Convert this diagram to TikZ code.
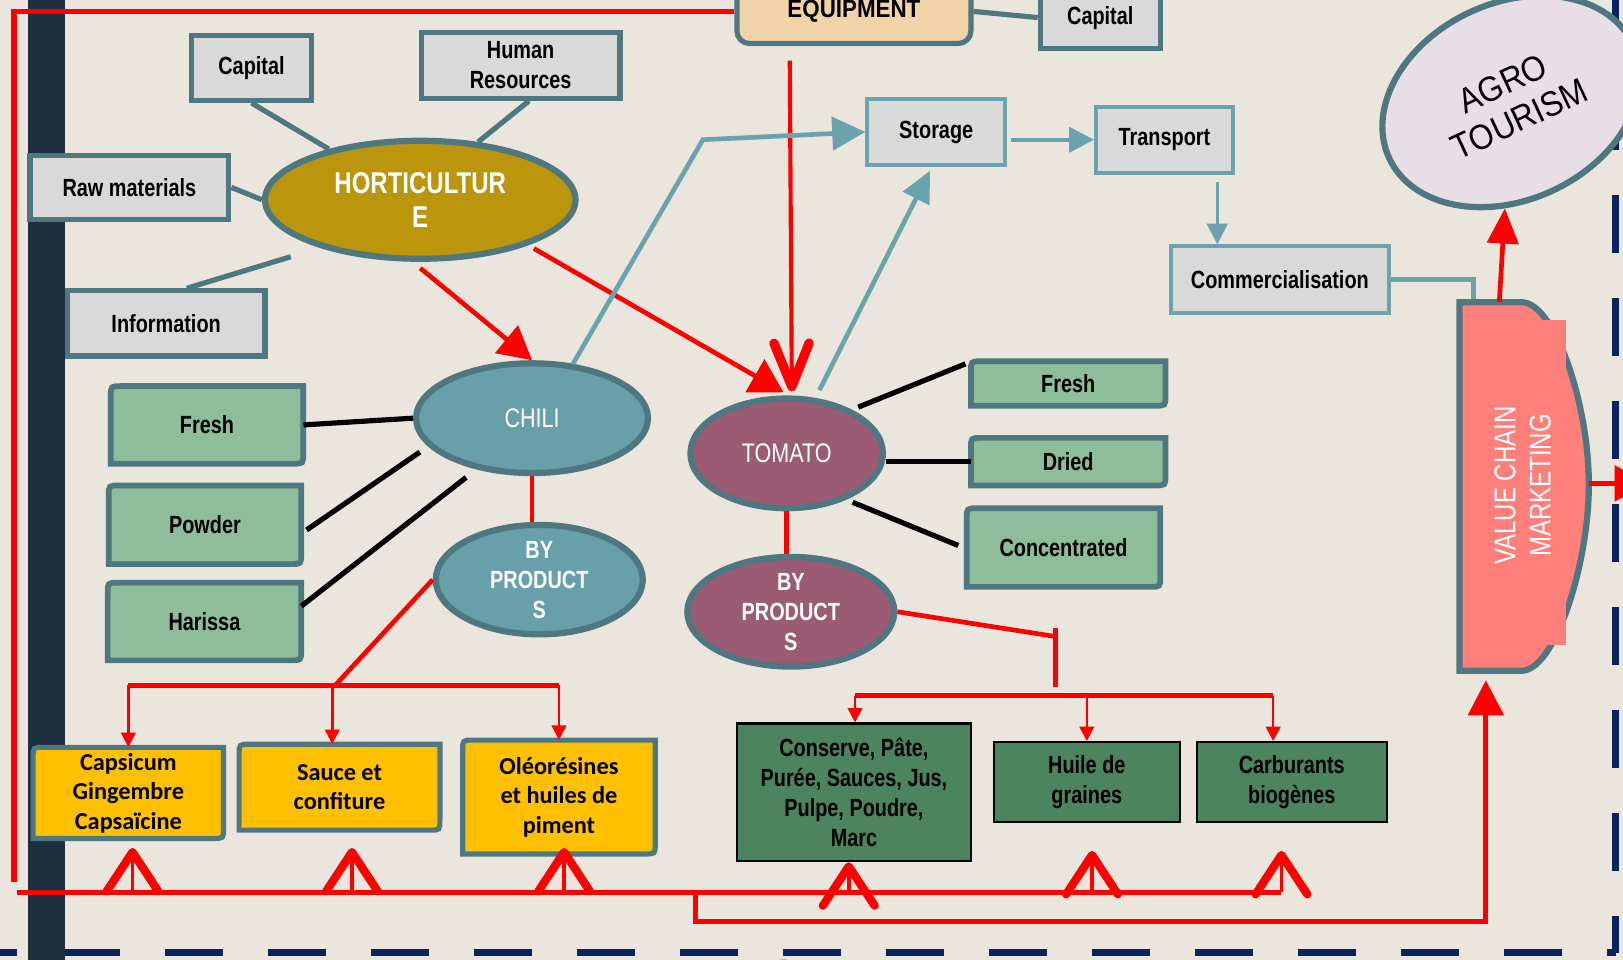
\documentclass[tikz,border=0pt]{standalone}
\usepackage{fontspec}
\setmainfont{Liberation Sans}
\newfontfamily\narrowfont[FakeStretch=0.8]{Liberation Sans}
\newfontfamily\equipfont[FakeStretch=0.9]{Liberation Sans}
\newfontfamily\agrofont[FakeStretch=0.9]{Liberation Sans}
\newfontfamily\calfont{Carlito}
\usetikzlibrary{arrows.meta,shapes.geometric,calc}

\definecolor{paper}{RGB}{234,230,221}
\definecolor{barnavy}{RGB}{29,46,63}
\definecolor{dashnavy}{RGB}{10,34,96}
\definecolor{slate}{RGB}{78,119,128}
\definecolor{aqua}{RGB}{106,163,172}
\definecolor{boxgrey}{RGB}{217,217,217}
\definecolor{gold}{RGB}{187,149,12}
\definecolor{chiliblue}{RGB}{103,160,170}
\definecolor{tomatomauve}{RGB}{154,91,115}
\definecolor{leaf}{RGB}{141,189,154}
\definecolor{amber}{RGB}{255,192,0}
\definecolor{forest}{RGB}{75,132,94}
\definecolor{salmon}{RGB}{255,127,122}
\definecolor{lilac}{RGB}{232,222,230}
\definecolor{wheat}{RGB}{240,212,168}
\definecolor{vred}{RGB}{255,0,0}
\definecolor{sliver}{RGB}{110,90,107}

\newcommand\lblfont{\narrowfont\bfseries\fontsize{24}{29}\selectfont}

% box whose top-left and bottom-right corners are rounded
% #1 outline options, #2 node options, #3 name, #4/#5 top-left, #6/#7 bottom-right, #8 text
\newcommand\roundbox[8]{%
  \path[#1] ({#4+10},#5) -- (#6,#5) -- (#6,{#7-10}) .. controls (#6,#7) .. ({#6-10},#7)
     -- (#4,#7) -- (#4,{#5+10}) .. controls (#4,#5) .. cycle;
  \node[#2, minimum width={#6-#4}, minimum height={#7-#5}] (#3) at ({(#4+#6)/2},{(#5+#7)/2}) {#8};}

\tikzset{
  lbl/.style={font=\lblfont, text=black, align=center, inner sep=0pt},
  ytext/.style={font=\calfont\bfseries\fontsize{23.5}{28.5}\selectfont, text=black, align=center, inner sep=0pt},
  greybox/.style={lbl, draw=slate, line width=5pt, fill=boxgrey},
  aquabox/.style={lbl, draw=aqua, line width=4pt, fill=boxgrey},
  forestbox/.style={lbl, draw=black, line width=2pt, fill=forest},
  leafbox/.style={draw=slate, line width=5.5pt, fill=leaf},
  amberbox/.style={draw=slate, line width=5pt, fill=amber},
  ell/.style={ellipse, draw=slate, line width=6pt, inner sep=0pt, text=white, align=center},
  cropfont/.style={font=\narrowfont\fontsize{26}{30}\selectfont},
  bypfont/.style={font=\narrowfont\bfseries\fontsize{24}{29}\selectfont},
  slateline/.style={draw=slate, line width=5pt},
  blackline/.style={draw=black, line width=5pt},
  redline/.style={draw=vred, line width=4.5pt},
  redthin/.style={draw=vred, line width=2.5pt, -{Triangle[length=14pt,width=14pt]}},
  aqualine/.style={draw=aqua, line width=4.5pt},
  chev/.style={draw=vred, line width=3.5pt, -{Straight Barb[length=38pt,width=50pt,line width=8pt,round]}},
}

\begin{document}
\begin{tikzpicture}[x=1pt,y=-1pt]
\clip (0,0) rectangle (1568,927);
\fill[paper] (0,0) rectangle (1568,927);

% dashed frame on the right and bottom
\draw[dashnavy, line width=6.5pt, dash pattern=on 56pt off 43.5pt] (1561,-10.5) -- (1561,920.5);
\draw[dashnavy, line width=6.5pt, dash pattern=on 56pt off 43.5pt] (-39.5,920.5) -- (1561,920.5);
\fill[sliver] (757,937) ellipse [x radius=13pt, y radius=10pt];

% dark vertical band
\fill[barnavy] (27,0) rectangle (63,927);

% ---------- horticulture and its inputs ----------
\node[greybox, minimum width=116pt, minimum height=63pt] (capL) at (243,65.5) {Capital};
\node[greybox, minimum width=192pt, minimum height=64pt] (hr) at (503,63) {Human\\Resources};
\node[greybox, minimum width=192pt, minimum height=62pt] (raw) at (125,181) {Raw materials};
\node[greybox, minimum width=191pt, minimum height=63pt] (info) at (160.5,312.5) {Information};
\node[ell, fill=gold, minimum width=300pt, minimum height=114pt,
      font=\narrowfont\bfseries\fontsize{29}{33}\selectfont] (hort) at (406,193) {HORTICULTUR\\E};

% ---------- equipment ----------
\node[lbl, draw=slate, line width=5pt, fill=wheat, rounded corners=12pt,
      font=\equipfont\bfseries\fontsize{24}{29}\selectfont,
      minimum width=226pt, minimum height=62pt] (equip) at (825,11) {EQUIPMENT};
\node[greybox, minimum width=116pt, minimum height=60pt] (capR) at (1063,17) {Capital};

% ---------- chili ----------
\node[ell, fill=chiliblue, cropfont, minimum width=224pt, minimum height=106pt] (chili) at (514,404) {CHILI};
\node[ell, fill=chiliblue, bypfont, minimum width=200pt, minimum height=104pt] (bypc) at (521,560) {BY\\PRODUCT\\S};
\roundbox{leafbox}{lbl}{frC}{107}{373}{293}{448}{Fresh}
\roundbox{leafbox}{lbl}{pow}{105}{469}{291}{545}{Powder}
\roundbox{leafbox}{lbl}{har}{104}{563}{291}{638}{Harissa}
\roundbox{amberbox}{ytext}{caps}{32}{722}{216}{810}{Capsicum\\Gingembre\\Capsaïcine}
\roundbox{amberbox}{ytext}{sauce}{231}{719}{425}{802}{Sauce et\\confiture}
\roundbox{amberbox}{ytext}{oleo}{447}{715}{633}{825}{Oléorésines\\et huiles de\\piment}

% ---------- tomato ----------
\node[ell, fill=tomatomauve, cropfont, minimum width=186pt, minimum height=106pt] (tom) at (760,438) {TOMATO};
\node[ell, fill=tomatomauve, bypfont, minimum width=200pt, minimum height=106pt] (bypt) at (764,591) {BY\\PRODUCT\\S};
\roundbox{leafbox}{lbl}{frT}{938}{349}{1126}{392}{Fresh}
\roundbox{leafbox}{lbl}{dri}{938}{423}{1126}{469}{Dried}
\roundbox{leafbox}{lbl}{conc}{934}{491}{1121}{567}{Concentrated}
\node[forestbox, minimum width=226pt, minimum height=133pt] (cons) at (825,765.5) {Conserve, Pâte,\\Purée, Sauces, Jus,\\Pulpe, Poudre,\\Marc};
\node[forestbox, minimum width=180pt, minimum height=77pt] (huile) at (1050,755.5) {Huile de\\graines};
\node[forestbox, minimum width=184pt, minimum height=77pt] (carb) at (1248,755.5) {Carburants\\biogènes};

% ---------- logistics chain ----------
\node[aquabox, minimum width=133pt, minimum height=63pt] (stor) at (904.5,127.5) {Storage};
\node[aquabox, minimum width=132pt, minimum height=64pt] (tran) at (1125,135) {Transport};
\node[aquabox, minimum width=211pt, minimum height=64pt] (comm) at (1236.5,270) {Commercialisation};

% ---------- agro tourism ----------
\node[ell, fill=lilac, rotate=25, minimum width=260pt, minimum height=190pt, text=black,
      font=\agrofont\fontsize{34}{38}\selectfont] (agro) at (1460,98) {AGRO\\TOURISM};

% ---------- value chain marketing ----------
\node[inner sep=0pt, minimum width=125pt, minimum height=356pt] (vcm) at (1472.5,470) {};
\draw[aqualine] (comm.east) -| ($(vcm.north)+(-49,8)$);
\path[fill=salmon, draw=slate, line width=6pt] (1410,292) -- (1470,292)
   .. controls (1502,292) and (1535,390) .. (1535,468)
   .. controls (1535,546) and (1502,648) .. (1470,648) -- (1410,648) -- cycle;
\fill[salmon] (1414,309) rectangle (1513,623);
\node[rotate=90, text=white, align=center, font=\narrowfont\fontsize{29}{34}\selectfont]
   (vcmtext) at (1471,469) {VALUE CHAIN\\MARKETING};

% ---------- connectors ----------
% inputs of horticulture
\draw[slateline] (capL.south) -- (hort.151);
\draw[slateline] ($(hr.south)+(8,0)$) -- (hort.45);
\draw[slateline] (raw.east) -- (hort.west);
\draw[slateline] ($(info.north)+(20,0)$) -- ($(hort.204)+(-24,10)$);
\draw[slateline] (equip.east) -- (capR.west);

% red frame from the equipment box
\coordinate (frameTL) at (13.5,11);
\coordinate (frameBL) at (13.5,852);
\draw[redline, line width=5.5pt] (equip.west) -- (frameTL) -- (frameBL);

% main flows
\draw[redline, -{Triangle[length=32pt,width=34pt]}] ($(hort.south)+(0,6)$) -- (chili.north);
\draw[redline, -{Triangle[length=32pt,width=36pt]}] ($(hort.-23)+(6,3)$) -- ($(tom.north)+(-3,-3)$);
\coordinate (eqdrop) at ($(equip.south)+(-62,14)$);
\draw[redline, line width=4pt, -{Straight Barb[length=42pt,width=34pt,line width=9pt,round]}]
   (eqdrop) -- ($(tom.north)+(5,-4)$);

% chili products
\draw[blackline] (frC.east) -- (chili.west);
\draw[blackline] ($(pow.east)+(5,5)$) -- ($(chili.197)+(-11,3)$);
\draw[blackline] ($(har.east)+(0,-15)$) -- ($(chili.222)+(-9,8)$);
\draw[redline] (chili.south) -- (chili.south |- bypc.north);
\coordinate (cj) at (324,662);
\coordinate (cl) at (caps.north |- cj);
\coordinate (cr) at (oleo.north |- cj);
\coordinate (cm) at ($(sauce.north)+(-7,0)$);
\draw[redline] (bypc.west) -- (cj);
\draw[redline] (cl) -- (cr);
\draw[redthin] (cl) -- (caps.north);
\draw[redthin] (cm |- cj) -- (cm);
\draw[redthin] (cr) -- (oleo.north);

% tomato products
\draw[blackline] ($(tom.33)+(5,-3)$) -- ($(frT.west)+(-5,-19)$);
\draw[blackline] (tom.east |- dri.west) -- (dri.west);
\draw[blackline] ($(tom.-37)+(5,3)$) -- ($(conc.west)+(-8,-2)$);
\draw[redline] (tom.south) -- (tom.south |- bypt.north);
\coordinate (tk) at (1020,615);
\draw[redline] (bypt.east) -- (tk);
\draw[redline] ($(tk)+(0,-8)$) -- ($(tk)+(0,49)$);
\coordinate (tl) at ($(cons.north)+(1,-26)$);
\coordinate (tr) at ($(carb.north)+(-18,-44)$);
\draw[redline] (tl) -- (tr);
\draw[redthin] (tl) -- (tl |- cons.north);
\draw[redthin] (huile.north |- tl) -- (huile.north);
\draw[redthin] (tr) -- (tr |- carb.north);

% logistics
\coordinate (bend) at (679,135);
\draw[aqualine, -{Triangle[length=32pt,width=32pt]}] (chili.53) -- (bend) -- (stor.west);
\draw[aqualine, -{Triangle[length=30pt,width=28pt]}] ($(tom.60)+(1,-8)$) -- ($(stor.south)+(-6,4)$);
\draw[aqualine, line width=4pt, -{Triangle[length=24pt,width=24pt]}] ($(stor.east |- tran.west)+(4,0)$) -- (tran.west);
\coordinate (tdrop) at ($(tran.south)+(51,7)$);
\draw[aqualine, line width=3pt, -{Triangle[length=20pt,width=20pt]}] (tdrop) -- (tdrop |- comm.north);

% marketing outputs
\draw[redline, -{Triangle[length=34pt,width=30pt]}] ($(vcm.north)+(-24,0)$) -- (agro);
\coordinate (offright) at (1592,467);
\draw[redline, -{Triangle[length=32pt,width=34pt]}] (vcm.east |- offright) -- (offright);

% bottom return lines
\coordinate (bl) at (16,862);
\coordinate (br) at (1238,862);
\draw[redline, line width=5pt] (bl) -- (br);
\coordinate (bj) at (672,862);
\coordinate (vcmin) at ($(vcm.south)+(-37,9)$);
\draw[redline, line width=5pt, -{Triangle[length=34pt,width=34pt]}] (bj) -- ++(0,28) -| (vcmin);

\coordinate (k1) at ($(caps.south)+(4,9)$);
\coordinate (k2) at ($(sauce.south)+(12,17)$);
\coordinate (k3) at ($(oleo.south)+(5,-6)$);
\coordinate (k4) at ($(cons.south)+(-5,0)$);
\coordinate (k5) at ($(huile.south)+(5,27)$);
\coordinate (k6) at ($(carb.south)+(-10,27)$);
\foreach \k in {k1,k2,k3,k4,k5,k6}
  \draw[chev] (\k |- bl) -- (\k);
\end{tikzpicture}
\end{document}
